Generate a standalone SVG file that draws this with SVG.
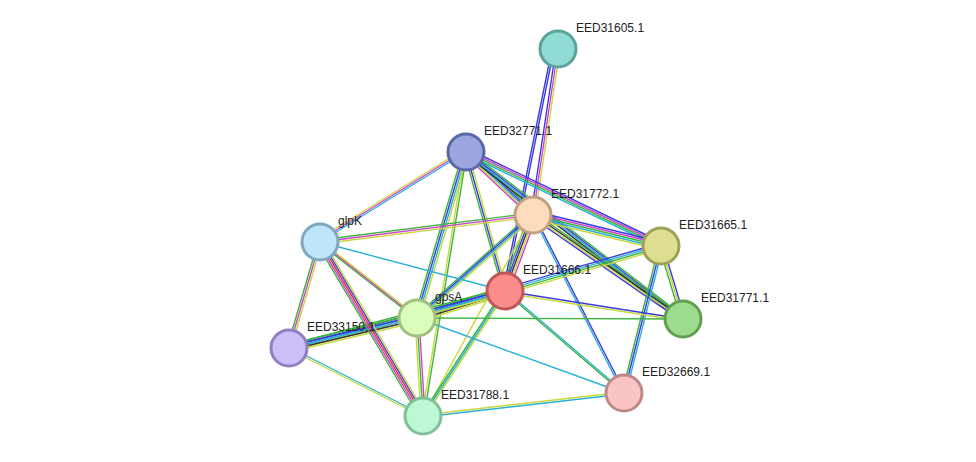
<svg xmlns="http://www.w3.org/2000/svg" width="976" height="462" viewBox="0 0 976 462">
<style>
line{stroke-width:1.4;fill:none}
.g{stroke:#3cb43c}.y{stroke:#c8d83c}.b{stroke:#3a3ae0}.c{stroke:#2ab0d8}.m{stroke:#d040d0}.k{stroke:#333}.r{stroke:#e03030}
circle{stroke-width:3}
text{font-family:"Liberation Sans",Arial,sans-serif;font-size:12px;fill:#222}
</style>
<rect width="976" height="462" fill="#fff"/>
<g id="edges">
<!-- 31605-31772 (vertical) -->
<line class="b" x1="556" y1="49" x2="531" y2="215"/><line class="m" x1="558" y1="49" x2="533" y2="215"/><line class="y" x1="560" y1="49" x2="535" y2="215"/>
<line class="b" x1="554" y1="49" x2="505" y2="291"/><line class="b" x1="552" y1="49" x2="503" y2="291"/>
<!-- 32771-31772 -->
<line class="g" x1="466" y1="148" x2="533" y2="211"/><line class="b" x1="466" y1="150" x2="533" y2="213"/><line class="c" x1="466" y1="152" x2="533" y2="215"/><line class="y" x1="466" y1="154" x2="533" y2="217"/><line class="m" x1="466" y1="156" x2="533" y2="219"/>
<!-- 32771-31665 -->
<line class="b" x1="466" y1="148" x2="661" y2="242"/><line class="m" x1="466" y1="150" x2="661" y2="244"/><line class="g" x1="466" y1="152" x2="661" y2="246"/><line class="c" x1="466" y1="154" x2="661" y2="248"/>
<!-- 32771-31771 -->
<line class="g" x1="466" y1="149" x2="683" y2="316"/><line class="b" x1="466" y1="151" x2="683" y2="318"/><line class="c" x1="466" y1="153" x2="683" y2="320"/><line class="k" x1="466" y1="155" x2="683" y2="322"/>
<!-- 32771-31666 -->
<line class="g" x1="464" y1="152" x2="503" y2="291"/><line class="b" x1="466" y1="152" x2="505" y2="291"/><line class="y" x1="468" y1="152" x2="507" y2="291"/>
<!-- 32771-glpK -->
<line class="y" x1="466" y1="148" x2="320" y2="238"/><line class="m" x1="466" y1="150" x2="320" y2="240"/><line class="c" x1="466" y1="152" x2="320" y2="242"/>
<!-- 32771-gpsA -->
<line class="g" x1="463" y1="152" x2="414" y2="318"/><line class="b" x1="465" y1="152" x2="416" y2="318"/><line class="c" x1="467" y1="152" x2="418" y2="318"/><line class="y" x1="469" y1="152" x2="420" y2="318"/>
<!-- 32771-31788 -->
<line class="y" x1="465" y1="152" x2="422" y2="416"/><line class="g" x1="467" y1="152" x2="424" y2="416"/>
<!-- 31772-31665 -->
<line class="b" x1="533" y1="211" x2="661" y2="242"/><line class="m" x1="533" y1="213" x2="661" y2="244"/><line class="g" x1="533" y1="215" x2="661" y2="246"/><line class="c" x1="533" y1="217" x2="661" y2="248"/><line class="y" x1="533" y1="219" x2="661" y2="250"/>
<!-- 31772-31771 -->
<line class="g" x1="533" y1="212" x2="683" y2="316"/><line class="k" x1="533" y1="214" x2="683" y2="318"/><line class="y" x1="533" y1="216" x2="683" y2="320"/><line class="b" x1="533" y1="218" x2="683" y2="322"/>
<!-- 31772-31666 -->
<line class="g" x1="529" y1="215" x2="501" y2="291"/><line class="b" x1="531" y1="215" x2="503" y2="291"/><line class="k" x1="533" y1="215" x2="505" y2="291"/><line class="y" x1="535" y1="215" x2="507" y2="291"/><line class="m" x1="537" y1="215" x2="509" y2="291"/>
<!-- 31772-glpK -->
<line class="g" x1="533" y1="213" x2="320" y2="240"/><line class="m" x1="533" y1="215" x2="320" y2="242"/><line class="y" x1="533" y1="217" x2="320" y2="244"/>
<!-- 31772-gpsA -->
<line class="g" x1="533" y1="212" x2="417" y2="315"/><line class="b" x1="533" y1="214" x2="417" y2="317"/><line class="c" x1="533" y1="216" x2="417" y2="319"/><line class="y" x1="533" y1="218" x2="417" y2="321"/>
<!-- 31772-32669 -->
<line class="c" x1="532" y1="215" x2="623" y2="393"/><line class="b" x1="534" y1="215" x2="625" y2="393"/>
<line class="y" x1="533" y1="215" x2="423" y2="416"/>
<!-- 31665-31666 -->
<line class="b" x1="661" y1="243" x2="505" y2="288"/><line class="c" x1="661" y1="245" x2="505" y2="290"/><line class="g" x1="661" y1="247" x2="505" y2="292"/><line class="y" x1="661" y1="249" x2="505" y2="294"/>
<!-- 31665-32669 -->
<line class="g" x1="659" y1="246" x2="622" y2="393"/><line class="b" x1="661" y1="246" x2="624" y2="393"/><line class="c" x1="663" y1="246" x2="626" y2="393"/>
<!-- 31665-31771 -->
<line class="g" x1="659" y1="246" x2="681" y2="319"/><line class="y" x1="661" y1="246" x2="683" y2="319"/><line class="b" x1="663" y1="246" x2="685" y2="319"/>
<line class="b" x1="505" y1="291" x2="683" y2="319"/>
<line class="y" x1="505" y1="293" x2="683" y2="321"/>
<!-- 31666-gpsA -->
<line class="g" x1="505" y1="287" x2="417" y2="314"/><line class="b" x1="505" y1="289" x2="417" y2="316"/><line class="c" x1="505" y1="291" x2="417" y2="318"/><line class="k" x1="505" y1="293" x2="417" y2="320"/><line class="y" x1="505" y1="295" x2="417" y2="322"/>
<line class="c" x1="505" y1="291" x2="320" y2="242"/>
<!-- 31666-33150 -->
<line class="g" x1="505" y1="288" x2="289" y2="345"/><line class="b" x1="505" y1="290" x2="289" y2="347"/><line class="c" x1="505" y1="292" x2="289" y2="349"/><line class="y" x1="505" y1="294" x2="289" y2="351"/>
<!-- 31666-31788 -->
<line class="g" x1="503" y1="291" x2="421" y2="416"/><line class="c" x1="505" y1="291" x2="423" y2="416"/><line class="y" x1="507" y1="291" x2="425" y2="416"/>
<line class="c" x1="505" y1="290" x2="624" y2="392"/><line class="g" x1="505" y1="292" x2="624" y2="394"/>
<line class="g" x1="417" y1="318" x2="683" y2="319"/>
<!-- gpsA-glpK -->
<line class="g" x1="415" y1="318" x2="318" y2="242"/><line class="m" x1="417" y1="318" x2="320" y2="242"/><line class="y" x1="419" y1="318" x2="322" y2="242"/>
<!-- gpsA-33150 -->
<line class="g" x1="417" y1="314" x2="289" y2="344"/><line class="b" x1="417" y1="316" x2="289" y2="346"/><line class="c" x1="417" y1="318" x2="289" y2="348"/><line class="k" x1="417" y1="320" x2="289" y2="350"/><line class="y" x1="417" y1="322" x2="289" y2="352"/>
<!-- gpsA-31788 -->
<line class="y" x1="415" y1="318" x2="421" y2="416"/><line class="g" x1="417" y1="318" x2="423" y2="416"/><line class="m" x1="419" y1="318" x2="425" y2="416"/>
<line class="c" x1="417" y1="318" x2="624" y2="393"/>
<!-- glpK-33150 -->
<line class="g" x1="318" y1="242" x2="287" y2="348"/><line class="m" x1="320" y1="242" x2="289" y2="348"/><line class="y" x1="322" y1="242" x2="291" y2="348"/>
<!-- glpK-31788 -->
<line class="g" x1="316" y1="242" x2="419" y2="416"/><line class="m" x1="318" y1="242" x2="421" y2="416"/><line class="r" x1="320" y1="242" x2="423" y2="416"/><line class="b" x1="322" y1="242" x2="425" y2="416"/><line class="y" x1="324" y1="242" x2="427" y2="416"/>
<line class="c" x1="289" y1="347" x2="423" y2="415"/><line class="y" x1="289" y1="349" x2="423" y2="417"/>
<line class="c" x1="423" y1="417" x2="624" y2="394"/><line class="y" x1="423" y1="415" x2="624" y2="392"/>
</g>
<g id="n31605"><circle cx="558" cy="49" r="18" fill="#90dbd3" stroke="#5aa39b"/><text x="576" y="32">EED31605.1</text></g>
<g id="n32771"><circle cx="466" cy="152" r="18" fill="#9ba5e0" stroke="#5a68a8"/><text x="484" y="135">EED32771.1</text></g>
<g id="n31772"><circle cx="533" cy="215" r="18" fill="#fddcbc" stroke="#c0a080"/><text x="551" y="198">EED31772.1</text></g>
<g id="n31665"><circle cx="661" cy="246" r="18" fill="#dede90" stroke="#a0a058"/><text x="679" y="229">EED31665.1</text></g>
<g id="nglpK"><circle cx="320" cy="242" r="18" fill="#bde6fb" stroke="#7fa8c0"/><text x="338" y="225">glpK</text></g>
<g id="n31666"><circle cx="505" cy="291" r="18" fill="#fb8c8c" stroke="#c05858"/><text x="523" y="274">EED31666.1</text></g>
<g id="ngpsA"><circle cx="417" cy="318" r="18" fill="#dcfcbc" stroke="#a0c080"/><text x="435" y="301">gpsA</text></g>
<g id="n31771"><circle cx="683" cy="319" r="18" fill="#9ddc8c" stroke="#60a050"/><text x="701" y="302">EED31771.1</text></g>
<g id="n33150"><circle cx="289" cy="348" r="18" fill="#cdbefa" stroke="#9080c0"/><text x="307" y="331">EED33150.1</text></g>
<g id="n32669"><circle cx="624" cy="393" r="18" fill="#f8c4c4" stroke="#c08888"/><text x="642" y="376">EED32669.1</text></g>
<g id="n31788"><circle cx="423" cy="416" r="18" fill="#bdf8d4" stroke="#80c098"/><text x="441" y="399">EED31788.1</text></g>
</svg>
